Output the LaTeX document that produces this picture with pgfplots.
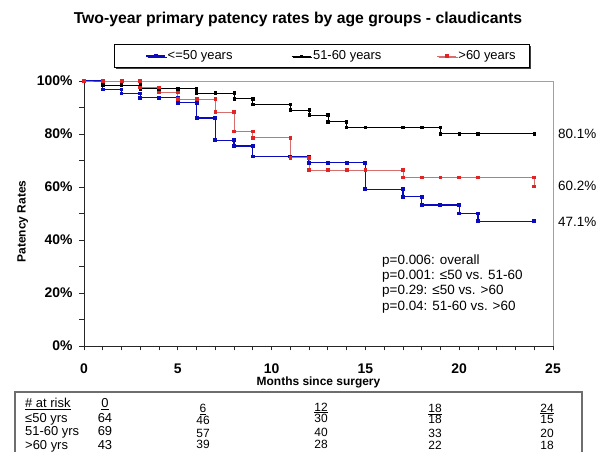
\documentclass[border=0pt]{standalone}
\usepackage{fontspec}
\setmainfont{Liberation Sans}
\usepackage{pgfplots}
\pgfplotsset{compat=1.18}
\usetikzlibrary{shadows}
\definecolor{kmblue}{RGB}{10,10,190}
\definecolor{kmred}{RGB}{225,35,35}
\definecolor{kmredline}{RGB}{215,110,110}
\definecolor{framegray}{RGB}{160,160,160}
\definecolor{boxgray}{RGB}{110,110,110}

\begin{document}
\begin{tikzpicture}
\useasboundingbox (0bp,0bp) rectangle (598bp,452bp);
\begin{axis}[
  at={(84bp,106bp)}, anchor=south west,
  scale only axis, width=469bp, height=265bp,
  xmin=0, xmax=25, ymin=0, ymax=100,
  axis lines=left, axis line style={-, black!85, line width=0.9bp},
  xtick={0,5,10,15,20,25}, minor xtick={1,2,3,4,6,7,8,9,11,12,13,14,16,17,18,19,21,22,23,24},
  ytick={0,20,40,60,80,100}, minor ytick={10,30,50,70,90},
  tick align=outside, major tick length=4.5bp, minor tick length=4.5bp,
  every tick/.style={black!85, line width=0.8bp},
  /pgf/number format/assume math mode=true,
  ticklabel style={font=\bfseries\fontsize{14}{16}\selectfont},
  xticklabel style={yshift=-10bp},
  yticklabel style={xshift=-3.5bp},
  yticklabel={\pgfmathprintnumber{\tick}\%},
  xlabel={Months since surgery}, ylabel={Patency Rates},
  label style={font=\bfseries\fontsize{12}{14}\selectfont},
  xlabel style={at={(axis description cs:0.5,0)}, anchor=center, yshift=-36bp},
  ylabel style={at={(axis description cs:-0.1307,0.47)}, anchor=center},
  clip=false,
  legend columns=3,
  legend style={at={(0.507,1.094)}, anchor=center, draw=black, line width=0.8bp,
    fill=white, font=\fontsize{13}{15}\selectfont, inner xsep=7bp, inner ysep=4bp,
    drop shadow={shadow xshift=1.5bp, shadow yshift=-1.5bp, fill=black!75, opacity=1},
    /tikz/every even column/.append style={column sep=0bp}},
  legend image code/.code={\node[draw=none, fill=none, inner sep=0pt, minimum size=0pt] at (-25bp,0bp) {};
    \draw[mark repeat=2, mark phase=2, #1] plot coordinates {(0bp,0bp) (9.5bp,0bp) (19bp,0bp)};},
]
\draw[framegray, line width=0.9bp] (rel axis cs:0,1) -- (rel axis cs:1,1) -- (rel axis cs:1,0);

\addplot[kmblue, line width=1.3bp, mark=square*, mark size=1.3bp, mark options={fill=kmblue, draw=kmblue}] coordinates {
(0,100) (1,100) (1,96.8) (2,96.8) (2,95.3) (3,95.3) (3,93.7) (4,93.7) (5,93.7) (5,91.8)
(6,91.8) (6,86.0) (7,86.0) (7,77.6) (8,77.6) (8,75.5) (9,75.5) (9,71.5) (11,71.5)
(12,71.5) (12,69.2) (13,69.2) (14,69.2) (15,69.2) (15,59.1) (17,59.1) (17,56.3)
(18,56.3) (18,53.2) (19,53.2) (20,53.2) (20,50.0) (21,50.0) (21,47.1) (24,47.1)};
\addlegendentry{\makebox[97bp][l]{<=50 years}}

\addplot[black, line width=0.7bp, mark=square*, mark size=1.2bp] coordinates {
(0,100) (1,100) (1,98.5) (2,98.5) (3,98.5) (3,97.1) (4,97.1) (5,97.1) (6,97.1) (6,95.5)
(7,95.5) (8,95.5) (8,93.3) (9,93.3) (9,91.3) (11,91.3) (11,89.1) (12,89.1) (12,87.2)
(13,87.2) (13,84.6) (14,84.6) (14,82.4) (15,82.4) (17,82.4) (18,82.4) (19,82.4)
(19,80.1) (20,80.1) (21,80.1) (24,80.1)};
\addlegendentry{\makebox[97bp][l]{51-60 years}}

\addplot[kmredline, line width=0.8bp, mark=square*, mark size=1.4bp, mark options={fill=kmred, draw=kmred}] coordinates {
(0,100) (1,100) (2,100) (3,100) (3,97.6) (4,97.6) (4,95.7) (5,95.7) (5,93.1) (6,93.1)
(7,93.1) (7,88.2) (8,88.2) (8,81.0) (9,81.0) (9,78.6) (11,78.6) (11,71.1) (12,71.1)
(12,66.4) (13,66.4) (14,66.4) (15,66.4) (17,66.4) (17,63.6) (18,63.6) (19,63.6)
(20,63.6) (21,63.6) (24,63.6) (24,60.2)};
\addlegendentry{\makebox[62bp][l]{>60 years}}
\end{axis}

% title
\node[anchor=base, font=\bfseries\fontsize{15.8}{18}\selectfont, inner sep=0pt] at (298bp,428.3bp)
  {Two-year primary patency rates by age groups - claudicants};

% end-point labels and p-values
\begin{scope}[every node/.style={anchor=base west, inner sep=0pt, font=\fontsize{13.5}{16}\selectfont}]
\node at (558bp,313.2bp) {80.1\%};
\node at (558bp,261.2bp) {60.2\%};
\node at (558bp,225.2bp) {47.1\%};
\node at (382bp,187.2bp) {p=0.006: overall};
\node at (382bp,172.2bp) {p=0.001: ≤50 vs. 51-60};
\node at (382bp,157.2bp) {p=0.29: ≤50 vs. >60};
\node at (382bp,141.2bp) {p=0.04: 51-60 vs. >60};
\end{scope}

% at-risk table
\draw[boxgray, line width=1.2bp] (15bp,-10bp) rectangle (582bp,60bp);
\begin{scope}[every node/.style={inner sep=0pt, font=\fontsize{13}{15}\selectfont}]
\node[anchor=base west] at (25bp,44.4bp) {\underline{\# at risk}};
\node[anchor=base west] at (25bp,29.4bp) {≤50 yrs};
\node[anchor=base west] at (25bp,16.4bp) {51-60 yrs};
\node[anchor=base west] at (25bp,2.4bp) {>60 yrs};
\node[anchor=base] at (105bp,44.4bp) {\underline{0}};
\node[anchor=base] at (105bp,29.4bp) {64};
\node[anchor=base] at (105bp,16.4bp) {69};
\node[anchor=base] at (105bp,2.4bp) {43};
\end{scope}
\begin{scope}[every node/.style={inner sep=0pt, anchor=base, font=\fontsize{12}{14}\selectfont}]
\node at (203bp,39.5bp) {\underline{6}};
\node at (203bp,27.2bp) {46};
\node at (203bp,14.7bp) {57};
\node at (203bp,3.7bp) {39};
\node at (321bp,40.7bp) {\underline{12}};
\node at (321bp,29.7bp) {30};
\node at (321bp,15.7bp) {40};
\node at (321bp,3.7bp) {28};
\node at (435bp,39.7bp) {\underline{18}};
\node at (435bp,28.7bp) {18};
\node at (435bp,14.7bp) {33};
\node at (435bp,2.7bp) {22};
\node at (547bp,39.7bp) {\underline{24}};
\node at (547bp,28.7bp) {15};
\node at (547bp,14.7bp) {20};
\node at (547bp,2.7bp) {18};
\end{scope}
\end{tikzpicture}
\end{document}
